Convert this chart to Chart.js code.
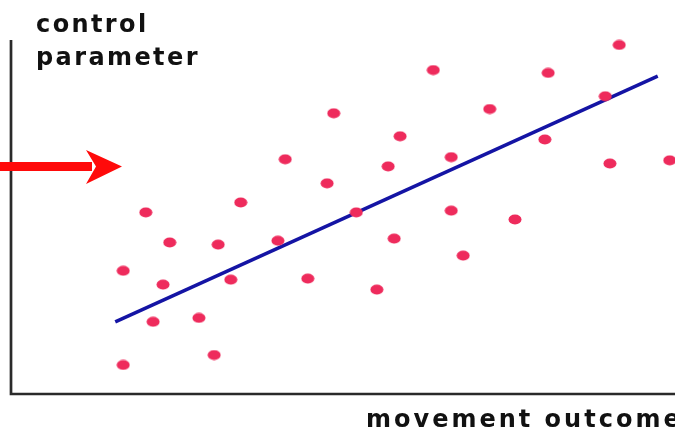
<!DOCTYPE html>
<html>
<head>
<meta charset="utf-8">
<script src="https://cdn.jsdelivr.net/npm/chart.js@4"></script>
<style>
  html, body { margin: 0; padding: 0; background: #fff; }
  #wrap { position: relative; width: 675px; height: 430px; overflow: hidden; }
  canvas { position: absolute; left: 0; top: 0; }
  .lbl {
    position: absolute; font-family: "DejaVu Sans", sans-serif; font-weight: bold;
    font-size: 24px; line-height: 24px; letter-spacing: 2.4px; color: #111; white-space: nowrap;
  }
</style>
</head>
<body>
<div id="wrap">
  <canvas id="ch_scatter" width="675" height="430"></canvas>
  <div class="lbl" style="left:36px; top:12px;">control</div>
  <div class="lbl" style="left:36px; top:45px;">parameter</div>
  <div class="lbl" style="left:366px; top:407px; letter-spacing:3px;">movement outcome</div>
</div>
<script>
/* ── data: movement outcome (x) vs control parameter (y), arbitrary units 0–100 ── */
const outcomeX = [16.9, 16.9, 20.3, 21.4, 22.9, 23.9, 28.3, 30.6, 31.2, 33.1, 34.6,
                  40.2, 41.3, 44.7, 47.6, 48.6, 52.0, 55.1, 56.8, 57.7, 58.6, 63.6,
                  66.3, 66.3, 68.1, 72.1, 75.9, 80.4, 80.9, 89.5, 90.2, 91.6, 99.2];
const controlY = [8.2, 34.8, 51.3, 20.4, 30.9, 42.8, 21.5, 11.0, 42.2, 32.3, 54.1,
                  43.3, 66.3, 32.6, 59.5, 79.3, 51.3, 29.5, 64.3, 43.9, 72.8, 91.5,
                  66.9, 51.8, 39.1, 80.5, 49.3, 71.9, 90.7, 84.1, 65.1, 98.6, 66.0];
const fitX = [15.7, 97.4];
const fitY = [20.4, 89.8];

// slightly wide dot, like the source image
function dotImage() {
  const c = document.createElement('canvas');
  c.width = 14; c.height = 11;
  const g = c.getContext('2d');
  g.fillStyle = '#ee2b5c';
  g.beginPath();
  g.ellipse(7, 5.5, 6.5, 5, 0, 0, Math.PI * 2);
  g.fill();
  return c;
}

// axes + red arrow, drawn around the chart area
const decor = {
  id: 'decor',
  beforeDatasetsDraw(chart) {
    const { ctx, chartArea: a } = chart;
    ctx.save();
    ctx.strokeStyle = '#2a2a2a';
    ctx.lineWidth = 2.7;
    ctx.beginPath();
    ctx.moveTo(a.left, a.top);
    ctx.lineTo(a.left, a.bottom);
    ctx.lineTo(chart.width, a.bottom);
    ctx.stroke();

    const yMid = 166.5;
    ctx.fillStyle = '#ff0a0a';
    ctx.fillRect(0, yMid - 4.5, 92, 9);
    ctx.beginPath();
    ctx.moveTo(86, 150);
    ctx.lineTo(122, yMid);
    ctx.lineTo(86, 184);
    ctx.lineTo(96, yMid);
    ctx.closePath();
    ctx.fill();
    ctx.restore();
  }
};

const pts = outcomeX.map((x, i) => ({ x, y: controlY[i] }));
const fit = fitX.map((x, i) => ({ x, y: fitY[i] }));

new Chart(document.getElementById('ch_scatter').getContext('2d'), {
  type: 'scatter',
  data: {
    datasets: [
      {
        type: 'line',
        label: 'fit',
        data: fit,
        borderColor: '#1414a4',
        borderWidth: 3.5,
        pointRadius: 0,
        fill: false,
        clip: false,
        order: 2
      },
      {
        label: 'trials',
        data: pts,
        pointStyle: dotImage(),
        pointRadius: 6,
        clip: false,
        order: 1
      }
    ]
  },
  options: {
    responsive: false,
    animation: false,
    layout: { autoPadding: false, padding: { left: 11, top: 40, right: 0, bottom: 36 } },
    plugins: { legend: { display: false }, tooltip: { enabled: false } },
    scales: {
      x: { type: 'linear', min: 0, max: 100, display: false },
      y: { type: 'linear', min: 0, max: 100, display: false }
    }
  },
  plugins: [decor]
});
</script>
</body>
</html>
